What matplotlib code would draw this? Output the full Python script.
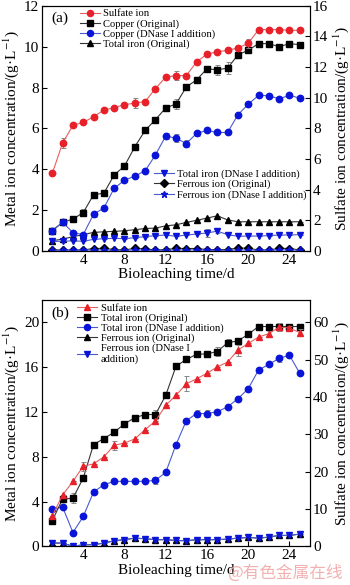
import matplotlib
matplotlib.use("Agg")
import matplotlib.pyplot as plt
from matplotlib.lines import Line2D

plt.rcParams['font.family'] = ['Liberation Serif', 'DejaVu Serif']
plt.rcParams['mathtext.fontset'] = 'stix'

days = list(range(1, 26))

# ---------------- Panel (a) ----------------
a_sulfate = [5.07, 7.05, 8.2, 8.4, 8.75, 9.2, 9.35, 9.55, 9.65, 9.75, 10.6, 11.35, 11.45,
             11.45, 12.35, 12.85, 13.0, 13.1, 13.25, 13.55, 14.45, 14.45, 14.45, 14.4, 14.4]
a_sulfate_err = [0, 0.35, 0, 0, 0, 0, 0, 0, 0.35, 0, 0, 0, 0.3, 0, 0, 0, 0, 0, 0, 0.3, 0, 0, 0, 0, 0]
a_cu_orig = [1.0, 1.4, 1.56, 1.88, 2.75, 2.83, 3.72, 4.16, 5.1, 5.9, 6.43, 7.0, 7.2, 8.03, 8.38,
             8.92, 8.87, 8.95, 9.6, 9.83, 10.15, 10.15, 10.0, 10.15, 10.1]
a_cu_orig_err = [0, 0, 0, 0.15, 0, 0.15, 0, 0.15, 0, 0, 0, 0, 0.25, 0, 0, 0, 0.25, 0.3, 0, 0, 0.12, 0.12, 0.1, 0, 0.1]
a_cu_dnase = [1.0, 1.4, 0.9, 0.8, 1.8, 2.1, 3.07, 3.46, 3.67, 3.92, 4.7, 5.63, 5.52, 5.26, 5.76,
              5.9, 5.8, 5.8, 6.67, 7.18, 7.62, 7.6, 7.45, 7.62, 7.48]
a_cu_dnase_err = [0, 0, 0, 0, 0.12, 0, 0, 0, 0, 0, 0, 0.15, 0.2, 0.15, 0.12, 0, 0, 0, 0, 0, 0, 0, 0, 0, 0]
a_fe_orig = [0.5, 0.58, 0.7, 0.8, 0.91, 0.94, 0.96, 0.99, 1.04, 1.1, 1.12, 1.23, 1.28, 1.4, 1.5,
             1.61, 1.72, 1.52, 1.43, 1.43, 1.43, 1.43, 1.43, 1.43, 1.43]
a_fe_dnase = [0.47, 0.47, 0.5, 0.47, 0.57, 0.6, 0.62, 0.6, 0.65, 0.7, 0.75, 0.78, 0.72, 0.78, 0.83,
              0.88, 0.97, 0.8, 0.72, 0.73, 0.73, 0.75, 0.78, 0.78, 0.8]
a_fe_dnase_err = [0, 0, 0, 0, 0, 0, 0, 0, 0, 0, 0, 0, 0, 0, 0, 0.2, 0.1, 0, 0, 0, 0, 0, 0, 0, 0]
a_fe2_orig = [0.05, 0.05, 0.05, 0.05, 0.12, 0.13, 0.07, 0.05, 0.13, 0.1, 0.05, 0.07, 0.13, 0.12, 0.12,
              0.07, 0.07, 0.07, 0.15, 0.13, 0.05, 0.05, 0.13, 0.12, 0.05]
a_fe2_dnase = [0.03, 0.03, 0.03, 0.03, 0.05, 0.05, 0.03, 0.03, 0.05, 0.03, 0.03, 0.03, 0.05, 0.05, 0.05,
               0.03, 0.03, 0.03, 0.05, 0.05, 0.03, 0.03, 0.05, 0.05, 0.03]

# ---------------- Panel (b) ----------------
b_sulfate = [8.2, 13.8, 17.4, 21.5, 22.1, 24.0, 27.1, 27.7, 28.8, 31.3, 33.6, 37.8, 40.5, 43.6,
             44.9, 46.4, 48.1, 49.4, 52.6, 54.4, 56.1, 57.0, 58.8, 58.5, 57.3]
b_sulfate_err = [0, 0, 0, 1.2, 0, 0, 1.2, 0, 0, 0, 0, 0, 0, 2.0, 0, 0, 0, 0, 1.5, 0, 0, 0.8, 1.0, 0.5, 1.0]
b_fe_orig = [2.31, 4.23, 4.3, 6.11, 9.1, 9.63, 10.2, 10.95, 11.49, 11.78, 11.78, 13.5, 16.1, 16.7,
             17.16, 17.2, 17.4, 18.2, 18.35, 18.95, 19.64, 19.64, 19.64, 19.64, 19.64]
b_fe_orig_err = [0, 0, 0.45, 0, 0, 0, 0, 0, 0, 0, 0.4, 0, 0, 0, 0, 0, 0.4, 0.3, 0, 0, 0, 0, 0.3, 0, 0]
b_fe_dnase = [3.33, 3.51, 1.24, 2.67, 4.86, 5.51, 5.81, 5.81, 5.81, 5.81, 5.9, 6.61, 9.1, 11.24,
              11.87, 11.87, 12.02, 12.47, 13.19, 14.09, 15.75, 16.26, 16.8, 17.07, 15.46]
b_fe_dnase_err = [0, 0, 0, 0, 0, 0, 0, 0, 0, 0, 0.3, 0, 0, 0, 0.3, 0.3, 0, 0, 0, 0, 0, 0, 0.3, 0, 0]
b_fe2_orig = [0.3, 0.3, 0.0, 0.15, 0.15, 0.3, 0.5, 0.6, 0.74, 0.68, 0.6, 0.6, 0.53, 0.5, 0.6,
              0.6, 0.6, 0.65, 0.74, 0.8, 0.74, 0.83, 0.98, 0.98, 1.1]
b_fe2_dnase = [0.3, 0.3, 0.0, 0.15, 0.15, 0.3, 0.5, 0.6, 0.74, 0.68, 0.6, 0.6, 0.53, 0.5, 0.6,
               0.6, 0.6, 0.65, 0.74, 0.8, 0.74, 0.83, 0.98, 0.98, 1.1]

x_ticks = [4, 8, 12, 16, 20, 24]

RED = '#e8202a'
RED_L = '#e86060'
BLK = '#000000'
BLK_L = '#333333'
BLU = '#0a14d8'
BLU_L = '#4a5ad0'
ERR = '#888888'

fig = plt.figure(figsize=(3.5, 5.85), dpi=100)
fig.patch.set_facecolor('white')

def style_axes(ax, ax2):
    for a in (ax, ax2):
        a.tick_params(direction='in', labelsize=11, length=3.5, width=0.8, pad=2)
        for s in a.spines.values():
            s.set_linewidth(0.8)
    ax.tick_params(axis='x', top=False)
    ax.set_xlim(0, 26)
    ax.set_xticks(x_ticks)
    ax.set_xlabel('Bioleaching time/d', fontsize=11, labelpad=1)
    ax.set_ylabel('Metal ion concentration/(g·L$^{-1}$)', fontsize=11, labelpad=2)
    ax2.set_ylabel('Sulfate ion concentration/(g·L$^{-1}$)', fontsize=11, labelpad=2)

def series(ax, y, err, mk, mc, lc, ms=4.6, z=3):
    ax.errorbar(days, y, yerr=err, fmt='-', marker=mk, color=lc, mfc=mc, mec=mc,
                ms=ms, lw=0.8, ecolor=ERR, elinewidth=0.7, capsize=1.8, capthick=0.7, zorder=z)

def h(mk, mc, lc, ms=4.4):
    return Line2D([], [], marker=mk, color=lc, mfc=mc, mec=mc, ms=ms, lw=0.8)

zero = [0] * 25

# ---- (a)
axa = fig.add_axes([0.12, 0.571, 0.766, 0.419])
axa2 = axa.twinx()
axa.set_ylim(0, 12)
axa.set_yticks([0, 2, 4, 6, 8, 10, 12])
axa2.set_ylim(0, 16)
axa2.set_yticks([0, 2, 4, 6, 8, 10, 12, 14, 16])
series(axa, a_fe2_orig, zero, 'D', BLK, BLK_L, ms=3.9)
series(axa, a_fe2_dnase, zero, '*', BLU, BLU_L, ms=5.2)
series(axa, a_fe_orig, zero, '^', BLK, BLK_L)
series(axa, a_fe_dnase, a_fe_dnase_err, 'v', BLU, BLU_L)
series(axa, a_cu_orig, a_cu_orig_err, 's', BLK, BLK_L, ms=4.2)
series(axa, a_cu_dnase, a_cu_dnase_err, 'o', BLU, BLU_L)
series(axa2, a_sulfate, a_sulfate_err, 'o', RED, RED_L)
style_axes(axa, axa2)
axa.text(0.035, 0.975, '(a)', transform=axa.transAxes, fontsize=11, va='top', ha='left')
leg_kw = dict(frameon=False, fontsize=7.6, handlelength=1.9, handletextpad=0.3,
              labelspacing=0.05, borderaxespad=0.2, borderpad=0.1)
l1 = axa2.legend([h('o', RED, RED_L), h('s', BLK, BLK_L, 4.0), h('o', BLU, BLU_L), h('^', BLK, BLK_L)],
                 ['Sulfate ion', 'Copper (Original)', 'Copper (DNase I addition)', 'Total iron (Original)'],
                 loc='upper left', bbox_to_anchor=(0.13, 1.0), **leg_kw)
axa2.add_artist(l1)
axa2.legend([h('v', BLU, BLU_L), h('D', BLK, BLK_L, 3.8), h('*', BLU, BLU_L, 5.0)],
            ['Total iron (DNase I addition)', 'Ferrous ion (Original)', 'Ferrous ion (DNase I addition)'],
            loc='upper left', bbox_to_anchor=(0.405, 0.345), **leg_kw)

# ---- (b)
axb = fig.add_axes([0.12, 0.066, 0.766, 0.421])
axb2 = axb.twinx()
axb.set_ylim(0, 22)
axb.set_yticks([0, 4, 8, 12, 16, 20])
axb2.set_ylim(0, 66)
axb2.set_yticks([0, 10, 20, 30, 40, 50, 60])
series(axb, b_fe2_orig, zero, '^', BLK, BLK_L)
series(axb, b_fe2_dnase, zero, 'v', BLU, BLU_L)
series(axb, b_fe_dnase, b_fe_dnase_err, 'o', BLU, BLU_L)
series(axb, b_fe_orig, b_fe_orig_err, 's', BLK, BLK_L, ms=4.2)
series(axb2, b_sulfate, b_sulfate_err, '^', RED, RED_L)
style_axes(axb, axb2)
axb.text(0.035, 0.975, '(b)', transform=axb.transAxes, fontsize=11, va='top', ha='left')
axb2.legend([h('^', RED, RED_L), h('s', BLK, BLK_L, 4.0), h('o', BLU, BLU_L), h('^', BLK, BLK_L), h('v', BLU, BLU_L)],
            ['Sulfate ion', 'Total iron (Original)', 'Total iron (DNase I addition)',
             'Ferrous ion (Original)', 'Ferrous ion (DNase I\naddition)'],
            loc='upper left', bbox_to_anchor=(0.12, 1.0), **leg_kw)

fig.text(0.978, 0.006, '@有色金属在线', fontsize=12, color='#f2a8a8', ha='right', va='bottom',
         family=['Noto Sans CJK SC', 'DejaVu Sans'], alpha=0.9, zorder=10)

fig.savefig('out.png', dpi=100)
